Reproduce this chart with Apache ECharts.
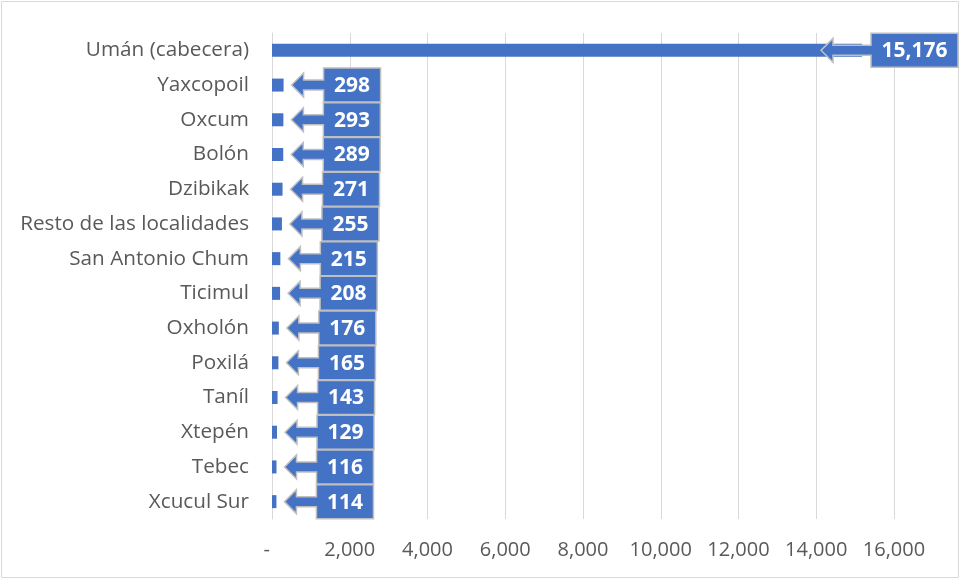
<!DOCTYPE html>
<html><head><meta charset="utf-8">
<script src="https://cdn.jsdelivr.net/npm/echarts@6/dist/echarts.min.js"></script>
<style>html,body{margin:0;padding:0;background:#fff}#c{width:961px;height:581px}</style>
</head><body><div id="c"></div>
<script>
var categories = ["Umán (cabecera)","Yaxcopoil","Oxcum","Bolón","Dzibikak","Resto de las localidades","San Antonio Chum","Ticimul","Oxholón","Poxilá","Taníl","Xtepén","Tebec","Xcucul Sur"];
var population = [15176,298,293,289,271,255,215,208,176,165,143,129,116,114];
var xTicks = [0,2000,4000,6000,8000,10000,12000,14000,16000];

function fmt(v){ return v === 0 ? '-  ' : v.toLocaleString('en-US'); }

var LABEL_FONT = 'bold 21px "Open Sans"';
var mctx = document.createElement('canvas').getContext('2d');
mctx.font = LABEL_FONT;

var chart = echarts.init(document.getElementById('c'), null, {renderer:'canvas'});
var calloutData = population.map(function(v,i){ return [v,i]; });

chart.setOption({
  animation:false,
  graphic:[{type:'rect', shape:{x:1.5,y:1.5,width:957,height:576}, style:{fill:'none', stroke:'#D9D9D9', lineWidth:1}, z:-1}],
  grid:{left:272, right:67, top:33, bottom:62},
  xAxis:{type:'value', min:xTicks[0], max:xTicks[xTicks.length-1], interval:2000,
    axisLine:{show:false}, axisTick:{show:false},
    splitLine:{lineStyle:{color:'#D9D9D9', width:1}},
    axisLabel:{formatter:fmt, color:'#595959', fontFamily:'Open Sans', fontSize:20, margin:21}},
  yAxis:{type:'category', data:categories, inverse:true,
    axisLine:{show:true, lineStyle:{color:'#D9D9D9'}}, axisTick:{show:false},
    axisLabel:{color:'#595959', fontFamily:'Open Sans', fontSize:20.7, margin:23, lineHeight:24, padding:[3,0,0,0]}},
  series:[
    {type:'bar', data:population, barWidth:13, itemStyle:{color:'#4472C4'}},
    {type:'custom', data:calloutData, encode:{x:0,y:1}, clip:false, z:5,
     renderItem:function(params, api){
       var v = api.value(0), c = api.value(1);
       var end = api.coord([v,c]);
       var cy = end[1];
       var txt = fmt(v);
       var w = Math.round(mctx.measureText(txt).width) + 21;
       var h = 34;
       var limit = api.getWidth() - 3;
       var boxL, tip;
       if (end[0] + 40 + w > limit) { boxL = limit - w; tip = boxL - 50; }
       else { boxL = end[0] + 40; tip = end[0] + 8; }
       var top = cy - h/2, bot = cy + h/2;
       var hw = 12, sw = 5, hl = 12;
       var pts = [[boxL,top],[boxL+w,top],[boxL+w,bot],[boxL,bot],[boxL,cy+sw],[tip+hl,cy+sw],[tip+hl,cy+hw],[tip,cy],[tip+hl,cy-hw],[tip+hl,cy-sw],[boxL,cy-sw]];
       return {type:'group', children:[
         {type:'polygon', shape:{points:pts}, style:{fill:'#4472C4', stroke:'#BFBFBF', lineWidth:1.5}},
         {type:'text', style:{text:txt, x:boxL + w/2, y:cy+1, align:'center', verticalAlign:'middle', fill:'#ffffff', fontFamily:'Open Sans', fontWeight:'bold', fontSize:21}}
       ]};
     }}
  ]
});
</script></body></html>
